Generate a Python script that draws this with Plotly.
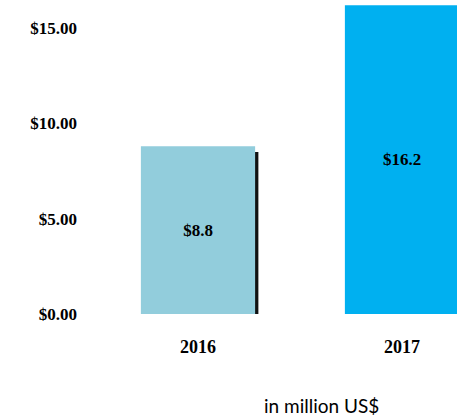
import plotly.graph_objects as go

years = ["2016", "2017"]
revenue = [8.8, 16.2]
value_labels = ["$8.8", "$16.2"]
bar_colors = ["#92CDDC", "#00B0F0"]
y_ticks = [0, 5, 10, 15]
y_tick_labels = ["$0.00", "$5.00", "$10.00", "$15.00"]

x_pos = list(range(len(years)))
serif_bold = dict(family="Liberation Serif", size=17, color="black")

fig = go.Figure()

# drop shadow behind each bar
fig.add_trace(go.Bar(
    x=x_pos, y=[v - 0.3 for v in revenue], width=0.56, offset=-0.28 + 0.016,
    marker=dict(color="#111111", line=dict(width=0)),
    hoverinfo="skip", showlegend=False,
))

fig.add_trace(go.Bar(
    x=x_pos, y=revenue, width=0.56, offset=-0.28,
    marker=dict(color=bar_colors, line=dict(width=0)),
    text=[f"<b>{t}</b>" for t in value_labels],
    textposition="inside", insidetextanchor="middle",
    textfont=serif_bold, showlegend=False,
))

fig.update_layout(
    width=457, height=417,
    margin=dict(l=96, r=0, t=0, b=103),
    paper_bgcolor="white", plot_bgcolor="white",
    barmode="overlay",
    xaxis=dict(
        range=[-0.5, -0.5 + 361 / 204],
        tickvals=x_pos, ticktext=[f"<b>{y}</b>" for y in years],
        tickfont=dict(family="Liberation Serif", size=18, color="black"),
        showgrid=False, zeroline=False,
        showline=False, ticks="", ticklabelstandoff=20,
    ),
    yaxis=dict(
        range=[0, 16.47],
        tickvals=y_ticks, ticktext=[f"<b>{t}</b>" for t in y_tick_labels],
        tickfont=serif_bold, showgrid=False, zeroline=False,
        showline=False, ticks="", ticklabelstandoff=18,
    ),
    annotations=[dict(
        text="in million US$", xref="paper", yref="paper",
        x=(321 - 96) / 361, y=-(405 - 314) / 314,
        xanchor="center", yanchor="middle", showarrow=False,
        font=dict(family="Lato", size=19, color="black"),
    )],
)

fig.write_html("out.html")
